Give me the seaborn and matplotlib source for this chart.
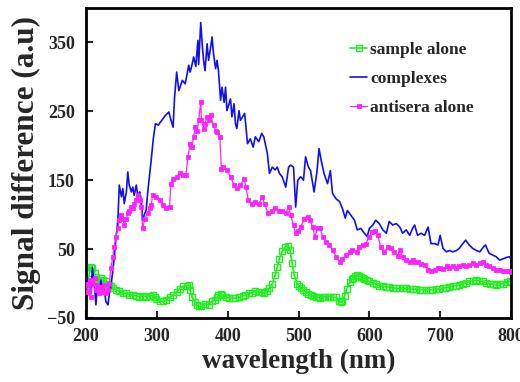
import matplotlib
matplotlib.use("Agg")
import matplotlib.pyplot as plt
import seaborn as sns

# Wavelength (nm) and signal difference (a.u) for each measured series
wl_sample = [
    200, 202, 205, 207, 209, 212, 214, 216, 219, 221,
    224, 226, 228, 231, 233, 235, 238, 242, 247, 252,
    257, 261, 266, 271, 275, 280, 285, 290, 294, 297,
    299, 304, 309, 313, 318, 323, 328, 332, 337, 342,
    345, 347, 350, 354, 356, 359, 363, 368, 373, 378,
    382, 385, 387, 390, 392, 397, 402, 407, 411, 416,
    421, 425, 430, 435, 439, 444, 448, 451, 456, 459,
    463, 467, 470, 473, 477, 481, 485, 488, 491, 494,
    498, 501, 503, 507, 510, 514, 517, 520, 524, 527,
    531, 534, 538, 541, 545, 548, 553, 557, 560, 562,
    565, 568, 572, 575, 577, 580, 582, 585, 588, 591,
    593, 596, 600, 605, 609, 614, 619, 624, 628, 633,
    638, 642, 647, 652, 657, 661, 666, 671, 675, 680,
    685, 689, 694, 699, 704, 708, 713, 718, 722, 727,
    732, 737, 741, 746, 751, 755, 760, 765, 770, 775,
    779, 784, 789, 794, 798, 800,
]
sig_sample = [
    -12, 0, 15, 24, 22, 15, 10, 5, 0, 8,
    5, -2, 3, 0, -2, -4, -7, -9, -11, -14,
    -14, -16, -17, -18, -19, -18, -19, -18, -17, -19,
    -22, -25, -26, -24, -19, -17, -12, -8, -4, -3,
    -2, -10, -20, -27, -31, -33, -33, -29, -31, -26,
    -24, -20, -17, -15, -17, -20, -21, -21, -21, -20,
    -18, -17, -14, -13, -11, -12, -12, -14, -11, -6,
    0, 12, 24, 36, 47, 53, 55, 48, 30, 12,
    0, -4, -7, -10, -12, -15, -17, -18, -19, -20,
    -21, -20, -19, -19, -19, -20, -20, -26, -27, -25,
    -18, -8, 2, 6, 8, 11, 12, 11, 10, 8,
    7, 5, 3, 1, -1, -3, -4, -5, -5, -6,
    -7, -7, -7, -7, -8, -8, -8, -9, -9, -9,
    -9, -9, -8, -8, -7, -6, -5, -4, -3, -2,
    0, 1, 3, 4, 5, 4, 3, 1, 0, -1,
    -2, -1, 0, 2, 3, 2,
]

wl_complex = [
    200, 202, 205, 207, 209, 212, 214, 216, 219, 221,
    224, 226, 228, 231, 233, 235, 238, 240, 242, 245,
    247, 250, 252, 254, 257, 259, 261, 264, 266, 268,
    271, 273, 276, 278, 280, 283, 285, 287, 290, 292,
    295, 298, 302, 307, 312, 317, 320, 323, 325, 328,
    331, 336, 340, 342, 345, 347, 350, 352, 355, 358,
    359, 362, 364, 366, 368, 371, 373, 376, 378, 380,
    383, 385, 387, 390, 392, 395, 397, 399, 402, 404,
    406, 409, 411, 413, 416, 418, 421, 424, 428, 432,
    436, 439, 444, 448, 451, 456, 459, 463, 467, 470,
    473, 477, 482, 486, 489, 493, 496, 499, 503, 507,
    510, 514, 517, 522, 526, 529, 532, 536, 541, 545,
    548, 553, 558, 562, 566, 569, 574, 579, 583, 588,
    593, 597, 600, 605, 609, 614, 619, 624, 628, 633,
    638, 643, 647, 652, 657, 661, 664, 668, 673, 678,
    683, 687, 692, 697, 700, 704, 709, 713, 718, 723,
    727, 732, 736, 741, 746, 751, 756, 761, 764, 769,
    775, 779, 784, 789, 794, 798, 800,
]
sig_complex = [
    10, -5, 5, -14, 24, -5, -31, 0, -9, 5,
    -14, -9, -26, -31, -14, -5, 20, 39, 63, 92,
    143, 126, 138, 116, 133, 162, 143, 133, 140, 128,
    143, 128, 133, 121, 92, 102, 107, 131, 160, 179,
    210, 232, 230, 237, 244, 249, 237, 227, 270, 307,
    280, 295, 290, 300, 317, 307, 319, 329, 315, 353,
    318, 379, 348, 324, 309, 348, 324, 343, 358, 334,
    312, 324, 309, 266, 285, 263, 285, 251, 261, 268,
    242, 261, 232, 225, 251, 237, 242, 247, 203, 210,
    198, 213, 206, 218, 213, 189, 160, 169, 165, 169,
    160, 155, 140, 169, 172, 169, 111, 150, 155, 150,
    184, 169, 164, 133, 162, 196, 179, 160, 145, 164,
    131, 123, 119, 109, 95, 106, 99, 92, 78, 80,
    73, 68, 80, 85, 92, 87, 78, 73, 90, 85,
    87, 82, 73, 78, 70, 80, 85, 70, 73, 70,
    82, 58, 58, 56, 70, 51, 46, 48, 46, 48,
    51, 58, 63, 56, 51, 48, 46, 53, 56, 44,
    41, 39, 34, 36, 38, 39, 35,
]

wl_antisera = [
    200, 202, 205, 207, 209, 212, 214, 216, 219, 221,
    224, 226, 228, 231, 233, 235, 238, 240, 242, 245,
    247, 250, 252, 254, 257, 259, 261, 264, 266, 268,
    271, 273, 276, 278, 280, 283, 287, 290, 292, 294,
    299, 304, 309, 313, 318, 320, 323, 328, 332, 337,
    341, 344, 347, 349, 352, 354, 357, 359, 362, 363,
    366, 368, 371, 373, 376, 380, 383, 385, 389, 391,
    394, 399, 404, 409, 413, 418, 423, 426, 429, 434,
    439, 444, 449, 452, 457, 462, 467, 472, 477, 482,
    486, 489, 493, 496, 499, 503, 508, 513, 516, 520,
    523, 527, 531, 534, 539, 543, 548, 553, 558, 562,
    567, 572, 576, 582, 586, 591, 595, 600, 604, 608,
    612, 616, 621, 626, 631, 635, 640, 643, 647, 652,
    657, 661, 664, 668, 673, 678, 683, 687, 692, 697,
    700, 704, 709, 713, 718, 723, 727, 732, 736, 741,
    746, 751, 756, 761, 764, 769, 775, 779, 784, 789,
    794, 798, 800,
]
sig_antisera = [
    0, -12, 5, -19, 0, 8, -9, -2, -14, -5,
    -12, -2, -14, -9, 0, 22, 39, 53, 68, 80,
    92, 99, 94, 85, 94, 102, 106, 111, 109, 116,
    121, 128, 121, 111, 80, 94, 102, 109, 114, 128,
    126, 121, 114, 109, 111, 145, 152, 155, 160, 157,
    157, 184, 203, 198, 213, 227, 222, 237, 263, 237,
    225, 232, 242, 237, 244, 230, 222, 220, 213, 167,
    169, 165, 155, 143, 138, 143, 152, 140, 121, 116,
    119, 116, 126, 116, 102, 106, 109, 106, 106, 102,
    111, 99, 85, 73, 77, 82, 94, 97, 92, 82,
    68, 80, 80, 68, 61, 56, 49, 39, 32, 36,
    41, 46, 49, 46, 53, 56, 58, 68, 75, 77,
    70, 53, 46, 53, 51, 46, 40, 48, 39, 34,
    32, 34, 32, 31, 29, 27, 20, 18, 20, 22,
    22, 21, 25, 22, 25, 22, 25, 27, 25, 27,
    30, 27, 30, 32, 27, 25, 22, 20, 19, 18,
    18, 18, 17,
]

x_ticks = [200, 300, 400, 500, 600, 700, 800]
y_ticks = [-50, 50, 150, 250, 350]

GREEN = "#22ee22"
BLUE = "#1010ee"
MAGENTA = "#ff22ff"

sns.set_style("white")
plt.rcParams["font.family"] = ["Liberation Serif", "DejaVu Serif"]
plt.rcParams["font.weight"] = "bold"

fig = plt.figure(figsize=(5.2, 3.82), dpi=100)
ax = fig.add_axes([86 / 520, 1 - 318 / 382, (511 - 86) / 520, (318 - 8) / 382])

sns.lineplot(x=wl_sample, y=sig_sample, ax=ax, color=GREEN, linewidth=1.2,
             marker="s", markersize=4.6, markerfacecolor="none",
             markeredgecolor=GREEN, markeredgewidth=1.0,
             label="sample alone", zorder=2)
sns.lineplot(x=wl_complex, y=sig_complex, ax=ax, color=BLUE, linewidth=1.2,
             label="complexes", zorder=3)
sns.lineplot(x=wl_antisera, y=sig_antisera, ax=ax, color=MAGENTA, linewidth=0.9,
             marker="s", markersize=3.2, markeredgewidth=0.6,
             markeredgecolor=MAGENTA, label="antisera alone", zorder=4)

ax.set_xlim(200, 800)
ax.set_ylim(-50, 400)
ax.set_xticks(x_ticks)
ax.set_yticks(y_ticks)
ax.tick_params(axis="both", which="major", direction="in", length=5, width=1.5,
               labelsize=13, bottom=True, left=True, top=False, right=False)
ax.tick_params(axis="x", pad=7)
ax.tick_params(axis="y", pad=8)
for lbl in ax.get_xticklabels() + ax.get_yticklabels():
    lbl.set_fontweight("bold")
for sp in ax.spines.values():
    sp.set_linewidth(2)
    sp.set_color("black")

ax.set_xlabel("wavelength (nm)", fontsize=19.5, fontweight="bold", labelpad=3)
ax.set_ylabel("Signal difference (a.u)", fontsize=22.5, fontweight="bold", labelpad=4)

leg = ax.legend(loc="upper left", bbox_to_anchor=(350 / 520, 1 - 42 / 382),
                bbox_transform=fig.transFigure, frameon=False,
                prop={"family": "Liberation Serif", "weight": "bold", "size": 12.5},
                handlelength=1.0, handletextpad=0.15, labelspacing=0.75,
                borderpad=0, borderaxespad=0)

fig.savefig("out.png", dpi=100)
